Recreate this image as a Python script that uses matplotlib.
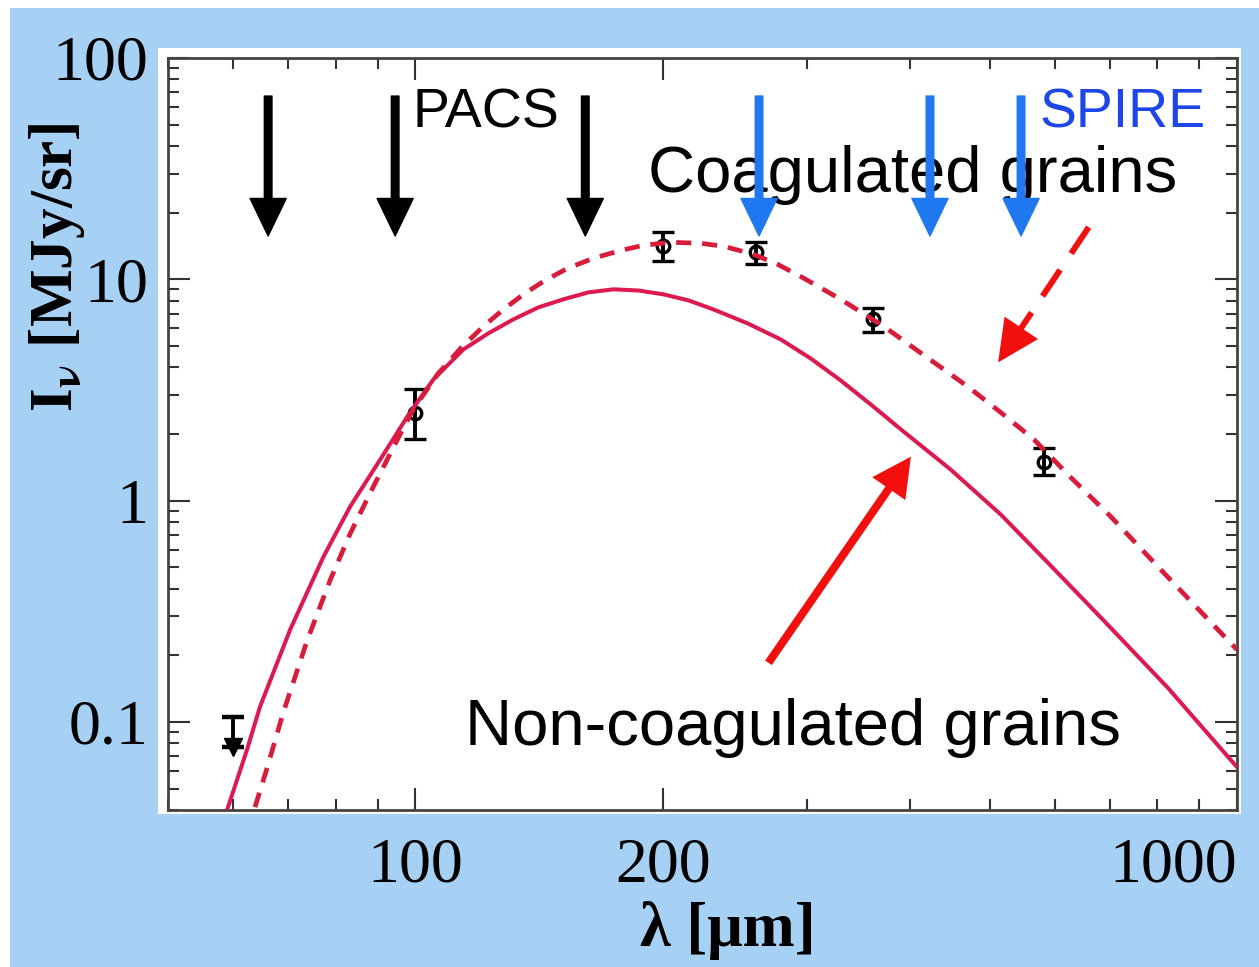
"""Dust SED: coagulated vs non-coagulated grain models with PACS/SPIRE bands."""

import matplotlib

matplotlib.use("Agg")
import matplotlib.pyplot as plt
from matplotlib.patches import FancyArrowPatch, Rectangle
from matplotlib.ticker import LogLocator, NullFormatter

plt.rcParams["font.family"] = "Liberation Serif"
plt.rcParams["mathtext.fontset"] = "stix"

# model curves (lambda in micron, I_nu in MJy/sr)
lam_noncoag = [59.0, 62.4, 64.7, 70.4, 77.3, 83.3, 90.6, 97.8, 105.2, 114.4, 122.7,
               131.6, 141.2, 151.4, 162.4, 174.3, 186.9, 200.5, 215.0, 230.6, 253.8,
               278.4, 302.8, 329.4, 358.3, 389.8, 448.3, 516, 593.4, 683, 824, 1000]
I_noncoag = [0.040, 0.075, 0.117, 0.261, 0.558, 0.94, 1.53, 2.40, 3.53, 4.82, 5.70,
             6.59, 7.47, 8.12, 8.73, 9.01, 8.90, 8.55, 8.03, 7.31, 6.32,
             5.35, 4.39, 3.49, 2.72, 2.10, 1.381, 0.864, 0.508, 0.296, 0.1425, 0.0625]

lam_coag = [63.8, 66.0, 69.1, 73.9, 78.8, 83.3, 88.9, 95.1, 99.4, 106.4, 113.5, 121.0,
            128.0, 135.4, 143.2, 153.1, 164.7, 177.7, 189.6, 204.5, 222.4, 237.2, 258.0,
            276.0, 294.4, 329.4, 371.5, 418.0, 470, 516, 566, 628, 702, 808, 948, 1000]
I_coag = [0.0412, 0.0619, 0.111, 0.235, 0.439, 0.709, 1.157, 1.888, 2.58, 3.72, 4.87, 6.13,
          7.31, 8.55, 9.79, 11.2, 12.45, 13.5, 14.25, 14.7, 14.55, 14.1, 12.97,
          11.69, 10.3, 8.12, 6.13, 4.48, 3.28, 2.50, 1.89, 1.27, 0.847, 0.487, 0.261, 0.212]

# observed points
lam_obs = [100, 200, 260, 361, 582]
I_obs = [2.5, 14.1, 13.25, 6.6, 1.50]
err_lo = [0.61, 2.0, 1.55, 0.85, 0.19]
err_hi = [0.68, 2.2, 1.45, 0.80, 0.22]

# upper limit
lam_ul = 60
I_ul = 0.077
I_ul_top = 0.105

# band markers
pacs_lam = [66.2, 94.5, 161]
spire_lam = [262, 423, 546]
band_top, band_tip = 67.3, 15.7

# pointer arrows (tail, tip)
coag_ptr = [(660, 17.2), (512, 4.21)]
noncoag_ptr = [(269, 0.185), (401, 1.58)]

W, H = 1259, 967
RED = "#f2100e"
fig = plt.figure(figsize=(W / 100, H / 100), dpi=100, facecolor="white")
fig.add_artist(Rectangle((10 / W, 0), 1 - 10 / W, 1 - 8 / H, transform=fig.transFigure,
                         facecolor="#a6d1f5", edgecolor="none", zorder=-2))
fig.add_artist(Rectangle((158 / W, 1 - 814 / H), (1241 - 158) / W, (814 - 48) / H,
                         transform=fig.transFigure, facecolor="white", edgecolor="none",
                         zorder=-1))

ax = fig.add_axes([168 / W, 1 - 810 / H, (1237 - 168) / W, (810 - 58) / H])
ax.set_xscale("log")
ax.set_yscale("log")
ax.set_xlim(50, 1000)
ax.set_ylim(0.04, 100)

ax.plot(lam_noncoag, I_noncoag, color="#dc1a50", lw=2.9, zorder=3)
ax.plot(lam_coag, I_coag, color="#d81c3c", lw=3.4, ls=(0, (3.2, 2.3)), zorder=3)

ax.errorbar(lam_obs, I_obs, yerr=[err_lo, err_hi], fmt="o", mfc="none", mec="black",
            mew=2.4, ms=9, ecolor="black", elinewidth=2.8, capsize=8, capthick=3.2,
            zorder=2)
ax.errorbar([lam_ul], [I_ul], yerr=[[0], [I_ul_top - I_ul]], fmt="v", color="black",
            ms=13, elinewidth=2.8, capsize=8, capthick=3.2, zorder=2)

band_style = "simple,head_length=27,head_width=26,tail_width=5.5"
for lam in pacs_lam:
    ax.add_patch(FancyArrowPatch((lam, band_top), (lam, band_tip), arrowstyle=band_style,
                                 mutation_scale=1, color="black", shrinkA=0, shrinkB=0,
                                 zorder=4))
for lam in spire_lam:
    ax.add_patch(FancyArrowPatch((lam, band_top), (lam, band_tip), arrowstyle=band_style,
                                 mutation_scale=1, color="#1f78f0", shrinkA=0, shrinkB=0,
                                 zorder=4))

# dashed pointer: dashed shaft + solid head
ax.add_patch(FancyArrowPatch(coag_ptr[0], coag_ptr[1], arrowstyle="-", shrinkA=0,
                             shrinkB=24, lw=4.3, ls=(0, (5.3, 3.3)), color=RED,
                             capstyle="butt", zorder=4))
ax.add_patch(FancyArrowPatch(coag_ptr[0], coag_ptr[1],
                             arrowstyle="simple,head_length=30,head_width=29,tail_width=0.01",
                             mutation_scale=1, color=RED, lw=0, shrinkA=0, shrinkB=0,
                             zorder=4))
ax.add_patch(FancyArrowPatch(noncoag_ptr[0], noncoag_ptr[1],
                             arrowstyle="simple,head_length=28,head_width=29,tail_width=5.8",
                             mutation_scale=1, color=RED, lw=0, shrinkA=0, shrinkB=0,
                             zorder=4))

sans = dict(family="Liberation Sans", va="baseline", ha="left")
ax.text(0.229, 0.908, "PACS", transform=ax.transAxes, size=40, color="black", **sans)
ax.text(0.8157, 0.908, "SPIRE", transform=ax.transAxes, size=40, color="#1e46e6", **sans)
ax.text(0.449, 0.822, "Coagulated grains", transform=ax.transAxes, size=47,
        color="black", **sans)
ax.text(0.2778, 0.0864, "Non-coagulated grains", transform=ax.transAxes, size=47,
        color="black", **sans)

ax.set_xticks([100, 200, 1000], labels=["100", "200", "1000"])
ax.set_yticks([0.1, 1, 10, 100], labels=["0.1", "1", "10", "100"])
ax.xaxis.set_minor_locator(LogLocator(base=10, subs=(2, 3, 4, 5, 6, 7, 8, 9), numticks=50))
ax.yaxis.set_minor_locator(LogLocator(base=10, subs=(2, 3, 4, 5, 6, 7, 8, 9), numticks=50))
ax.xaxis.set_minor_formatter(NullFormatter())
ax.yaxis.set_minor_formatter(NullFormatter())
ax.tick_params(which="both", direction="in", top=True, right=True, color="#333333",
               width=1.5, labelsize=46)
ax.tick_params(which="major", length=16)
ax.tick_params(which="minor", length=8)
ax.tick_params(axis="x", pad=20)
ax.tick_params(axis="y", pad=14)
ax.get_xticklabels()[-1].set_horizontalalignment("right")
for s in ax.spines.values():
    s.set_linewidth(2)
    s.set_color("#444444")

fig.text(57 / W, 1 - 267 / H, r"I$_{\mathbf{\nu}}$ [MJy/sr]", rotation=90, ha="center",
         va="center", size=44, weight="bold")
fig.text(728 / W, 1 - 931 / H, "λ [μm]", ha="center", va="center", size=45, weight="bold")

fig.savefig("out.png", dpi=100)
